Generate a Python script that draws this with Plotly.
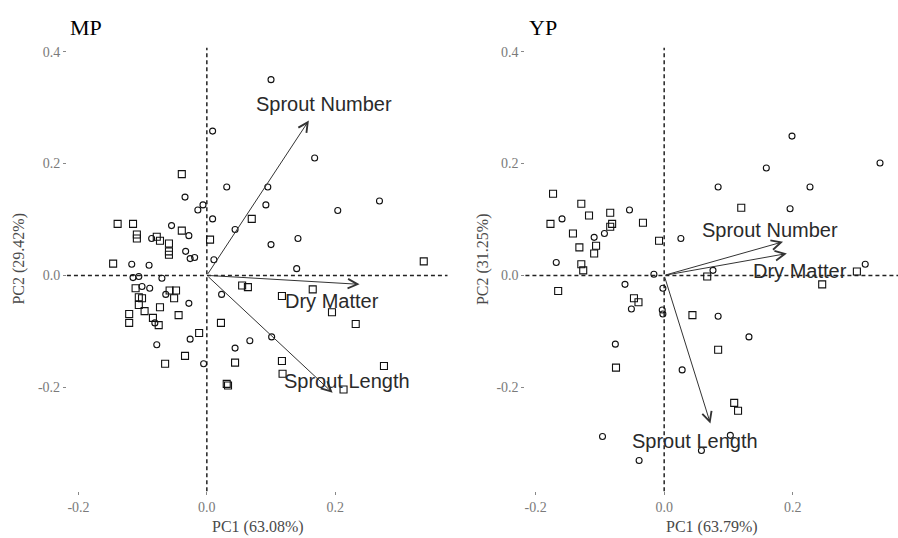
import plotly.graph_objects as go

# ---------------- MP panel scores ----------------
mp_square_pc1 = [-0.039, -0.139, -0.115, -0.109, -0.109, -0.039, -0.078, -0.073, -0.059, -0.059,
                 -0.059, 0.005, -0.146, 0.338, 0.070, -0.111, -0.106, -0.101, -0.058, -0.048,
                 -0.051, -0.106, -0.073, -0.121, -0.121, -0.097, -0.084, -0.075, -0.044, -0.012,
                 -0.034, -0.065, 0.022, 0.055, 0.064, 0.117, 0.165, 0.195, 0.232, 0.044,
                 0.117, 0.118, 0.276, 0.213, 0.031, 0.033]
mp_square_pc2 = [0.181, 0.092, 0.092, 0.073, 0.066, 0.080, 0.069, 0.062, 0.057, 0.043,
                 0.037, 0.064, 0.021, 0.025, 0.101, -0.023, -0.039, -0.041, -0.027, -0.027,
                 -0.041, -0.053, -0.057, -0.069, -0.085, -0.064, -0.076, -0.089, -0.071, -0.103,
                 -0.144, -0.158, -0.085, -0.018, -0.021, -0.037, -0.025, -0.066, -0.087, -0.156,
                 -0.153, -0.176, -0.162, -0.204, -0.194, -0.197]
mp_circle_pc1 = [0.031, -0.034, -0.006, -0.014, 0.009, -0.055, -0.028, -0.086, -0.033, -0.026,
                 -0.019, 0.011, 0.044, -0.117, -0.090, -0.115, -0.106, -0.070, -0.101, -0.089,
                 -0.064, -0.028, -0.081, -0.026, -0.078, -0.005, 0.023, 0.044, 0.100, 0.009,
                 0.168, 0.095, 0.092, 0.269, 0.204, 0.100, 0.142, 0.140, 0.067, 0.101]
mp_circle_pc2 = [0.158, 0.140, 0.126, 0.117, 0.101, 0.089, 0.071, 0.066, 0.043, 0.030,
                 0.032, 0.028, 0.082, 0.020, 0.018, -0.004, -0.002, -0.005, -0.020, -0.023,
                 -0.034, -0.050, -0.085, -0.114, -0.124, -0.158, -0.034, -0.130, 0.350, 0.258,
                 0.210, 0.158, 0.126, 0.133, 0.116, 0.055, 0.066, 0.012, -0.117, -0.110]

# ---------------- YP panel scores ----------------
yp_square_pc1 = [-0.173, -0.129, -0.117, -0.084, -0.177, -0.081, -0.084, -0.033, -0.142, -0.106,
                 -0.132, -0.109, -0.129, -0.126, -0.008, -0.165, 0.120, 0.067, 0.300, 0.246,
                 -0.047, -0.040, 0.044, 0.084, -0.075, 0.109, 0.115]
yp_square_pc2 = [0.146, 0.128, 0.107, 0.112, 0.092, 0.092, 0.087, 0.094, 0.075, 0.053,
                 0.050, 0.039, 0.020, 0.009, 0.062, -0.028, 0.121, -0.002, 0.007, -0.016,
                 -0.041, -0.048, -0.071, -0.133, -0.165, -0.228, -0.242]
yp_circle_pc1 = [-0.054, -0.159, -0.093, -0.109, -0.168, 0.026, -0.016, -0.061, -0.002, 0.199,
                 0.159, 0.336, 0.084, 0.227, 0.196, 0.076, 0.313, -0.051, -0.003, -0.002,
                 0.084, 0.132, -0.076, 0.028, -0.096, 0.103, 0.058, -0.039]
yp_circle_pc2 = [0.117, 0.101, 0.075, 0.068, 0.023, 0.066, 0.002, -0.016, -0.023, 0.249,
                 0.192, 0.201, 0.158, 0.158, 0.119, 0.009, 0.020, -0.060, -0.062, -0.069,
                 -0.073, -0.110, -0.123, -0.169, -0.288, -0.286, -0.313, -0.331]

# ---------------- loadings (arrows) ----------------
variables = ["Sprout Number", "Dry Matter", "Sprout Length"]
mp_load_pc1 = [0.159, 0.238, 0.196]
mp_load_pc2 = [0.277, -0.016, -0.210]
yp_load_pc1 = [0.185, 0.191, 0.072]
yp_load_pc2 = [0.060, 0.039, -0.265]
mp_label_pc1 = [0.182, 0.195, 0.218]
mp_label_pc2 = [0.306, -0.046, -0.188]
yp_label_pc1 = [0.165, 0.212, 0.048]
yp_label_pc2 = [0.082, 0.007, -0.297]

panel_titles = ["MP", "YP"]
x_titles = ["PC1 (63.08%)", "PC1 (63.79%)"]
y_titles = ["PC2 (29.42%)", "PC2 (31.25%)"]
x_tickvals = [-0.2, 0.0, 0.2]
x_ticktext = ["-0.2", "0.0", "0.2"]
y_tickvals = [-0.2, 0.0, 0.2, 0.4]
y_ticktext = ["-0.2", "0.0", "0.2", "0.4"]

W, H = 898, 538
fig = go.Figure()

mk_c = dict(symbol="circle-open", size=6, color="#111", line=dict(width=1.1, color="#111"))
mk_s = dict(symbol="square-open", size=7, color="#111", line=dict(width=1.1, color="#111"))

panels = [
    ("x", "y", mp_square_pc1, mp_square_pc2, mp_circle_pc1, mp_circle_pc2,
     mp_load_pc1, mp_load_pc2, mp_label_pc1, mp_label_pc2),
    ("x2", "y2", yp_square_pc1, yp_square_pc2, yp_circle_pc1, yp_circle_pc2,
     yp_load_pc1, yp_load_pc2, yp_label_pc1, yp_label_pc2),
]

annotations = []
shapes = []
for i, (xr, yr, sx, sy, cx, cy, lx, ly, tx, ty) in enumerate(panels):
    fig.add_trace(go.Scatter(x=sx, y=sy, mode="markers", marker=mk_s, xaxis=xr, yaxis=yr,
                             showlegend=False, hoverinfo="skip"))
    fig.add_trace(go.Scatter(x=cx, y=cy, mode="markers", marker=mk_c, xaxis=xr, yaxis=yr,
                             showlegend=False, hoverinfo="skip"))
    # reference dashed lines
    shapes.append(dict(type="line", xref=xr, yref=f"{yr} domain", x0=0, x1=0, y0=0, y1=1,
                       line=dict(color="#222", width=1.5, dash="4px,3px"), layer="below"))
    shapes.append(dict(type="line", xref=f"{xr} domain", yref=yr, x0=0, x1=1, y0=0, y1=0,
                       line=dict(color="#222", width=1.5, dash="4px,3px"), layer="below"))
    for v, px, py, lbx, lby in zip(variables, lx, ly, tx, ty):
        annotations.append(dict(x=px, y=py, ax=0, ay=0, xref=xr, yref=yr, axref=xr, ayref=yr,
                                text="", showarrow=True, arrowhead=5, arrowsize=1.9,
                                arrowwidth=1, arrowcolor="#333", standoff=0))
        annotations.append(dict(x=lbx, y=lby, xref=xr, yref=yr, text=v, showarrow=False,
                                font=dict(family="Liberation Sans, Arial", size=20, color="#2a2a2a"),
                                xanchor="center", yanchor="middle"))

# panel titles
annotations.append(dict(x=67 / W, y=1 - 25 / H, xref="paper", yref="paper", text=panel_titles[0],
                        showarrow=False, xanchor="left", yanchor="middle",
                        font=dict(family="Liberation Serif", size=22, color="#000")))
annotations.append(dict(x=527 / W, y=1 - 25 / H, xref="paper", yref="paper", text=panel_titles[1],
                        showarrow=False, xanchor="left", yanchor="middle",
                        font=dict(family="Liberation Serif", size=22, color="#000")))
# axis titles
for xc, t in [(257, x_titles[0]), (712, x_titles[1])]:
    annotations.append(dict(x=xc / W, y=1 - 527 / H, xref="paper", yref="paper", text=t,
                            showarrow=False, xanchor="center", yanchor="middle",
                            font=dict(family="Liberation Serif", size=16, color="#4a4a4a")))
for xc, t in [(18, y_titles[0]), (482, y_titles[1])]:
    annotations.append(dict(x=xc / W, y=1 - 257 / H, xref="paper", yref="paper", text=t,
                            showarrow=False, xanchor="center", yanchor="middle", textangle=-90,
                            font=dict(family="Liberation Serif", size=16, color="#4a4a4a")))

ax_common = dict(showgrid=False, zeroline=False, showline=False, ticks="outside", ticklen=3,
                 tickwidth=1, tickcolor="#888",
                 tickfont=dict(family="Liberation Serif", size=14, color="#7a7a7a"))

fig.update_layout(
    width=W, height=H, margin=dict(l=0, r=0, t=0, b=0),
    plot_bgcolor="white", paper_bgcolor="white",
    xaxis=dict(domain=[66 / W, 447 / W], range=[-0.218, 0.375], anchor="y",
               tickvals=x_tickvals, ticktext=x_ticktext, **ax_common),
    yaxis=dict(domain=[1 - 491 / H, 1 - 45 / H], range=[-0.386, 0.407], anchor="x",
               tickvals=y_tickvals, ticktext=y_ticktext, **ax_common),
    xaxis2=dict(domain=[525 / W, 1.0], range=[-0.216, 0.364], anchor="y2",
                tickvals=x_tickvals, ticktext=x_ticktext, **ax_common),
    yaxis2=dict(domain=[1 - 491 / H, 1 - 45 / H], range=[-0.386, 0.407], anchor="x2",
                tickvals=y_tickvals, ticktext=y_ticktext, **ax_common),
    annotations=annotations, shapes=shapes,
)

fig.write_html("out.html", config={"displayModeBar": False},
               post_script="document.body.style.margin='0';document.body.style.overflow='hidden';")
